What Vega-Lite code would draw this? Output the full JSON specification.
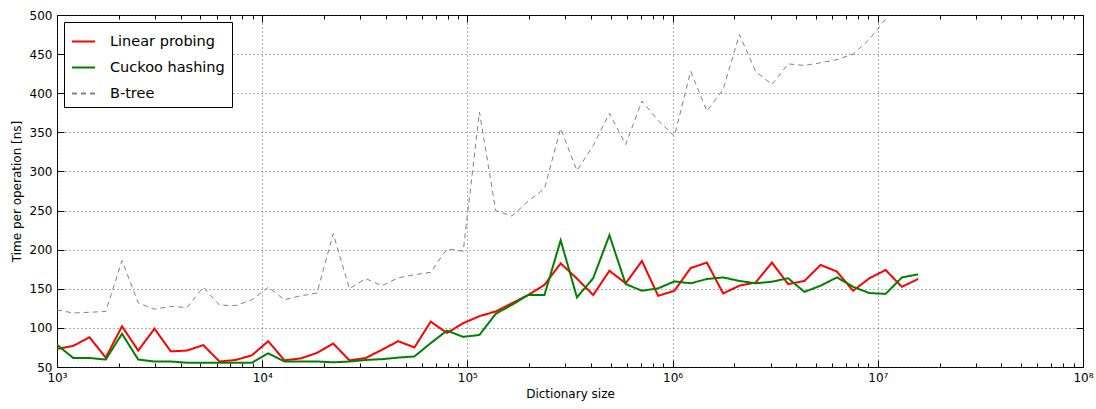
{
  "$schema": "https://vega.github.io/schema/vega-lite/v6.json",
  "width": 1026,
  "height": 352,
  "autosize": {"type": "none"},
  "padding": {"left": 57, "top": 15, "right": 13, "bottom": 42},
  "background": "white",
  "config": {
    "font": "DejaVu Sans",
    "view": {"stroke": "black", "strokeWidth": 1},
    "axis": {"labelFont": "DejaVu Sans", "titleFont": "DejaVu Sans", "labelFontSize": 12, "titleFontSize": 12, "titleFontWeight": "normal", "labelColor": "black", "titleColor": "black", "domain": false, "tickColor": "black", "tickWidth": 1}
  },
  "datasets": {
    "d": [
      {"size":1000,"series":"Linear probing","time":73},{"size":1200,"series":"Linear probing","time":77},{"size":1440,"series":"Linear probing","time":88},{"size":1728,"series":"Linear probing","time":62},{"size":2074,"series":"Linear probing","time":102},{"size":2488,"series":"Linear probing","time":71},{"size":2986,"series":"Linear probing","time":99},{"size":3583,"series":"Linear probing","time":70},{"size":4300,"series":"Linear probing","time":71},{"size":5160,"series":"Linear probing","time":78},{"size":6192,"series":"Linear probing","time":57},{"size":7430,"series":"Linear probing","time":59},{"size":8916,"series":"Linear probing","time":65},{"size":10699,"series":"Linear probing","time":83},{"size":12839,"series":"Linear probing","time":58.5},{"size":15407,"series":"Linear probing","time":61},{"size":18488,"series":"Linear probing","time":68},{"size":22186,"series":"Linear probing","time":80},{"size":26623,"series":"Linear probing","time":58.5},{"size":31948,"series":"Linear probing","time":61.5},{"size":38338,"series":"Linear probing","time":72},{"size":46005,"series":"Linear probing","time":83},{"size":55206,"series":"Linear probing","time":75},{"size":66247,"series":"Linear probing","time":108},{"size":79497,"series":"Linear probing","time":93.5},{"size":95396,"series":"Linear probing","time":106},{"size":114475,"series":"Linear probing","time":115},{"size":137370,"series":"Linear probing","time":121},{"size":164845,"series":"Linear probing","time":131.5},{"size":197814,"series":"Linear probing","time":142},{"size":237376,"series":"Linear probing","time":155},{"size":284852,"series":"Linear probing","time":182.5},{"size":341822,"series":"Linear probing","time":163},{"size":410186,"series":"Linear probing","time":142},{"size":492224,"series":"Linear probing","time":173},{"size":590668,"series":"Linear probing","time":157},{"size":708802,"series":"Linear probing","time":185.5},{"size":850562,"series":"Linear probing","time":141},{"size":1020675,"series":"Linear probing","time":147.5},{"size":1224810,"series":"Linear probing","time":176.5},{"size":1469772,"series":"Linear probing","time":183.5},{"size":1763726,"series":"Linear probing","time":144},{"size":2116471,"series":"Linear probing","time":154},{"size":2539765,"series":"Linear probing","time":158},{"size":3047718,"series":"Linear probing","time":183.5},{"size":3657262,"series":"Linear probing","time":156},{"size":4388714,"series":"Linear probing","time":160},{"size":5266457,"series":"Linear probing","time":180.5},{"size":6319748,"series":"Linear probing","time":172},{"size":7583698,"series":"Linear probing","time":147.5},{"size":9100438,"series":"Linear probing","time":163.5},{"size":10920526,"series":"Linear probing","time":174},{"size":13104631,"series":"Linear probing","time":152.5},{"size":15725557,"series":"Linear probing","time":162.5},
      {"size":1000,"series":"Cuckoo hashing","time":78.5},{"size":1200,"series":"Cuckoo hashing","time":61.5},{"size":1440,"series":"Cuckoo hashing","time":61.5},{"size":1728,"series":"Cuckoo hashing","time":59.5},{"size":2074,"series":"Cuckoo hashing","time":92.5},{"size":2488,"series":"Cuckoo hashing","time":59.5},{"size":2986,"series":"Cuckoo hashing","time":57},{"size":3583,"series":"Cuckoo hashing","time":57},{"size":4300,"series":"Cuckoo hashing","time":55.5},{"size":5160,"series":"Cuckoo hashing","time":55.5},{"size":6192,"series":"Cuckoo hashing","time":55.5},{"size":7430,"series":"Cuckoo hashing","time":55.5},{"size":8916,"series":"Cuckoo hashing","time":55.5},{"size":10699,"series":"Cuckoo hashing","time":67.5},{"size":12839,"series":"Cuckoo hashing","time":57},{"size":15407,"series":"Cuckoo hashing","time":57},{"size":18488,"series":"Cuckoo hashing","time":57},{"size":22186,"series":"Cuckoo hashing","time":56},{"size":26623,"series":"Cuckoo hashing","time":57},{"size":31948,"series":"Cuckoo hashing","time":59},{"size":38338,"series":"Cuckoo hashing","time":60},{"size":46005,"series":"Cuckoo hashing","time":62},{"size":55206,"series":"Cuckoo hashing","time":63.5},{"size":66247,"series":"Cuckoo hashing","time":80.5},{"size":79497,"series":"Cuckoo hashing","time":96.5},{"size":95396,"series":"Cuckoo hashing","time":88.5},{"size":114475,"series":"Cuckoo hashing","time":91},{"size":137370,"series":"Cuckoo hashing","time":118},{"size":164845,"series":"Cuckoo hashing","time":129.5},{"size":197814,"series":"Cuckoo hashing","time":142},{"size":237376,"series":"Cuckoo hashing","time":142},{"size":284852,"series":"Cuckoo hashing","time":212},{"size":341822,"series":"Cuckoo hashing","time":139},{"size":410186,"series":"Cuckoo hashing","time":163.5},{"size":492224,"series":"Cuckoo hashing","time":218.5},{"size":590668,"series":"Cuckoo hashing","time":156},{"size":708802,"series":"Cuckoo hashing","time":147.5},{"size":850562,"series":"Cuckoo hashing","time":150.5},{"size":1020675,"series":"Cuckoo hashing","time":159.5},{"size":1224810,"series":"Cuckoo hashing","time":157},{"size":1469772,"series":"Cuckoo hashing","time":162.5},{"size":1763726,"series":"Cuckoo hashing","time":164.5},{"size":2116471,"series":"Cuckoo hashing","time":160},{"size":2539765,"series":"Cuckoo hashing","time":157},{"size":3047718,"series":"Cuckoo hashing","time":159},{"size":3657262,"series":"Cuckoo hashing","time":163.5},{"size":4388714,"series":"Cuckoo hashing","time":146},{"size":5266457,"series":"Cuckoo hashing","time":154},{"size":6319748,"series":"Cuckoo hashing","time":164.5},{"size":7583698,"series":"Cuckoo hashing","time":152.5},{"size":9100438,"series":"Cuckoo hashing","time":144.5},{"size":10920526,"series":"Cuckoo hashing","time":143.5},{"size":13104631,"series":"Cuckoo hashing","time":164.5},{"size":15725557,"series":"Cuckoo hashing","time":168.5},
      {"size":1000,"series":"B-tree","time":123},{"size":1200,"series":"B-tree","time":119},{"size":1440,"series":"B-tree","time":120},{"size":1728,"series":"B-tree","time":121},{"size":2074,"series":"B-tree","time":186},{"size":2488,"series":"B-tree","time":132},{"size":2986,"series":"B-tree","time":124},{"size":3583,"series":"B-tree","time":127.5},{"size":4300,"series":"B-tree","time":126},{"size":5160,"series":"B-tree","time":152},{"size":6192,"series":"B-tree","time":129},{"size":7430,"series":"B-tree","time":128.5},{"size":8916,"series":"B-tree","time":136},{"size":10699,"series":"B-tree","time":152},{"size":12839,"series":"B-tree","time":136},{"size":15407,"series":"B-tree","time":141},{"size":18488,"series":"B-tree","time":144.5},{"size":22186,"series":"B-tree","time":220.5},{"size":26623,"series":"B-tree","time":150},{"size":31948,"series":"B-tree","time":163},{"size":38338,"series":"B-tree","time":154},{"size":46005,"series":"B-tree","time":164},{"size":55206,"series":"B-tree","time":168},{"size":66247,"series":"B-tree","time":171},{"size":79497,"series":"B-tree","time":201},{"size":95396,"series":"B-tree","time":198},{"size":114475,"series":"B-tree","time":376},{"size":137370,"series":"B-tree","time":250},{"size":164845,"series":"B-tree","time":243},{"size":197814,"series":"B-tree","time":262},{"size":237376,"series":"B-tree","time":278},{"size":284852,"series":"B-tree","time":355},{"size":341822,"series":"B-tree","time":301},{"size":410186,"series":"B-tree","time":333},{"size":492224,"series":"B-tree","time":374.5},{"size":590668,"series":"B-tree","time":334.5},{"size":708802,"series":"B-tree","time":390},{"size":850562,"series":"B-tree","time":365},{"size":1020675,"series":"B-tree","time":345},{"size":1224810,"series":"B-tree","time":428},{"size":1469772,"series":"B-tree","time":377},{"size":1763726,"series":"B-tree","time":405},{"size":2116471,"series":"B-tree","time":475},{"size":2539765,"series":"B-tree","time":428},{"size":3047718,"series":"B-tree","time":411},{"size":3657262,"series":"B-tree","time":437.5},{"size":4388714,"series":"B-tree","time":435.5},{"size":5266457,"series":"B-tree","time":439},{"size":6319748,"series":"B-tree","time":443},{"size":7583698,"series":"B-tree","time":450},{"size":9100438,"series":"B-tree","time":469},{"size":10920526,"series":"B-tree","time":495}
    ]
  },
  "data": {"name": "d"},
  "resolve": {"axis": {"x": "independent", "y": "independent"}},
  "layer": [
    {
      "mark": {"type": "line", "clip": true},
      "encoding": {
        "x": {"field": "size", "type": "quantitative",
          "scale": {"type": "log", "domain": [1000, 100000000], "nice": false},
          "axis": {"orient": "bottom", "values": [1000, 10000, 100000, 1000000, 10000000, 100000000], "ticks": false, "labelPadding": 5, "labelFlush": false, "labelOverlap": false, "labelExpr": "'10' + ['³','⁴','⁵','⁶','⁷','⁸'][round(log(datum.value)/LN10) - 3]", "grid": true, "gridColor": "#333", "gridDash": [1, 3], "gridWidth": 0.8, "title": "Dictionary size", "titlePadding": 5}},
        "y": {"field": "time", "type": "quantitative",
          "scale": {"domain": [50, 500], "nice": false, "zero": false},
          "axis": {"orient": "left", "values": [50,100,150,200,250,300,350,400,450,500], "ticks": false, "labelPadding": 5, "grid": true, "gridColor": "#333", "gridDash": [1, 3], "gridWidth": 0.8, "title": "Time per operation [ns]", "titlePadding": 6}},
        "color": {"field": "series", "type": "nominal",
          "scale": {"domain": ["Linear probing", "Cuckoo hashing", "B-tree"], "range": ["#ff0000", "#008000", "#7f7f7f"]},
          "legend": {"title": null, "orient": "none", "legendX": 7, "legendY": 7, "strokeColor": "black", "fillColor": "white", "padding": 7, "cornerRadius": 0, "symbolType": "stroke", "symbolSize": 529, "symbolStrokeWidth": 2, "labelFontSize": 14.5, "labelFont": "DejaVu Sans", "labelColor": "black", "labelOffset": 14, "rowPadding": 7}},
        "strokeDash": {"field": "series", "type": "nominal",
          "scale": {"domain": ["Linear probing", "Cuckoo hashing", "B-tree"], "range": [[1, 0], [1, 0], [5, 4]]},
          "legend": {"title": null, "orient": "none", "legendX": 7, "legendY": 7, "strokeColor": "black", "fillColor": "white", "padding": 7, "cornerRadius": 0, "symbolType": "stroke", "symbolSize": 529, "symbolStrokeWidth": 2, "labelFontSize": 14.5, "labelFont": "DejaVu Sans", "labelColor": "black", "labelOffset": 14, "rowPadding": 7}},
        "strokeWidth": {"condition": {"test": "datum.series === 'B-tree'", "value": 1}, "value": 2}
      }
    },
    {
      "mark": {"type": "point", "opacity": 0},
      "encoding": {
        "x": {"field": "size", "type": "quantitative",
          "axis": {"orient": "bottom", "values": [2000,3000,4000,5000,6000,7000,8000,9000,20000,30000,40000,50000,60000,70000,80000,90000,200000,300000,400000,500000,600000,700000,800000,900000,2000000,3000000,4000000,5000000,6000000,7000000,8000000,9000000,20000000,30000000,40000000,50000000,60000000,70000000,80000000,90000000], "labels": false, "grid": false, "tickSize": -4, "title": null}},
        "y": {"field": "time", "type": "quantitative",
          "axis": {"orient": "right", "values": [50,100,150,200,250,300,350,400,450,500], "labels": false, "grid": false, "tickSize": -7, "title": null}}
      }
    },
    {
      "mark": {"type": "point", "opacity": 0},
      "encoding": {
        "x": {"field": "size", "type": "quantitative",
          "axis": {"orient": "top", "values": [2000,3000,4000,5000,6000,7000,8000,9000,20000,30000,40000,50000,60000,70000,80000,90000,200000,300000,400000,500000,600000,700000,800000,900000,2000000,3000000,4000000,5000000,6000000,7000000,8000000,9000000,20000000,30000000,40000000,50000000,60000000,70000000,80000000,90000000], "labels": false, "grid": false, "tickSize": -4, "title": null}},
        "y": {"field": "time", "type": "quantitative",
          "axis": {"orient": "left", "values": [50,100,150,200,250,300,350,400,450,500], "labels": false, "grid": false, "tickSize": -7, "title": null}}
      }
    },
    {
      "mark": {"type": "point", "opacity": 0},
      "encoding": {
        "x": {"field": "size", "type": "quantitative",
          "axis": {"orient": "top", "values": [1000, 10000, 100000, 1000000, 10000000, 100000000], "labels": false, "grid": false, "tickSize": -7, "title": null}},
        "y": {"field": "time", "type": "quantitative", "axis": null}
      }
    },
    {
      "mark": {"type": "point", "opacity": 0},
      "encoding": {
        "x": {"field": "size", "type": "quantitative",
          "axis": {"orient": "bottom", "values": [1000, 10000, 100000, 1000000, 10000000, 100000000], "labels": false, "grid": false, "tickSize": -7, "title": null}},
        "y": {"field": "time", "type": "quantitative", "axis": null}
      }
    }
  ]
}
